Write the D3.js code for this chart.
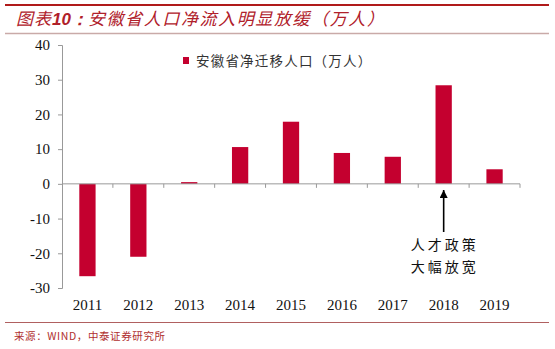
<!DOCTYPE html>
<html><head><meta charset="utf-8">
<script src="https://cdn.jsdelivr.net/npm/d3@7"></script>
<style>body{margin:0;background:#fff}</style>
</head><body>
<svg id="c" width="555" height="349"></svg>
<script>
const years = ["2011","2012","2013","2014","2015","2016","2017","2018","2019"];
const netMigration = [-26.6, -21.0, 0.5, 10.6, 17.9, 8.9, 7.8, 28.4, 4.2];
const yTicks = [-30,-20,-10,0,10,20,30,40];
const title = "图表10：安徽省人口净流入明显放缓（万人）";
const legendLabel = "安徽省净迁移人口（万人）";
const annotation = ["人才政策","大幅放宽"];
const annotationYear = "2018";
const source = "来源：WIND，中泰证券研究所";

const svg = d3.select("#c");
const serif = "'Liberation Serif','DejaVu Serif',serif";
const cjk = "'Noto Sans CJK SC',sans-serif";
const barColor = "#c4002f";

// header/footer lines
svg.append("line").attr("x1",5).attr("x2",549).attr("y1",5).attr("y2",5).attr("stroke","#b01a1a").attr("stroke-width",2);
svg.append("line").attr("x1",5).attr("x2",549).attr("y1",33.5).attr("y2",33.5).attr("stroke","#c9aaa8").attr("stroke-width",1.5);
svg.append("line").attr("x1",5).attr("x2",549).attr("y1",322.5).attr("y2",322.5).attr("stroke","#b06060").attr("stroke-width",1);

const t = svg.append("text").attr("x",16).attr("y",25).attr("fill","#b0202a")
  .attr("font-family",cjk).attr("font-size",17).attr("font-style","italic");
t.append("tspan").attr("letter-spacing",1).text("图表");
t.append("tspan").attr("font-weight","bold").attr("font-family","'Liberation Sans',Arial,sans-serif").text("10：");
t.append("tspan").attr("letter-spacing",1.6).text(title.slice(5));

svg.append("text").attr("x",14).attr("y",340).attr("fill","#b03030")
  .attr("font-family",cjk).attr("font-size",10.5).attr("letter-spacing",0.6).text(source);

const x = d3.scaleBand().domain(years).range([62,520]).paddingInner(0.68).paddingOuter(0.34);
const y = d3.scaleLinear().domain([-30,40]).range([288,45]);

// bars
svg.append("g").selectAll("rect").data(years).join("rect")
  .attr("x",d=>x(d)).attr("width",x.bandwidth())
  .attr("y",(d,i)=>y(Math.max(0,netMigration[i])))
  .attr("height",(d,i)=>Math.abs(y(netMigration[i])-y(0)))
  .attr("fill",barColor);

// y axis
const ya = svg.append("g").attr("transform","translate(62,0)")
  .call(d3.axisLeft(y).tickValues(yTicks).tickFormat(d=>String(d)).tickSize(4).tickPadding(8));
ya.selectAll("path,line").attr("stroke","#999");
ya.selectAll("text").attr("font-family",serif).attr("font-size",15).attr("fill","#111");

// x axis at zero with ticks at band boundaries
const step = x.step();
const xg = svg.append("g");
xg.append("line").attr("x1",62).attr("x2",520).attr("y1",y(0)).attr("y2",y(0)).attr("stroke","#999");
xg.selectAll("line.t").data(d3.range(1,10)).join("line").attr("class","t")
  .attr("x1",i=>62+i*step).attr("x2",i=>62+i*step)
  .attr("y1",y(0)).attr("y2",y(0)+4).attr("stroke","#999");
svg.append("g").selectAll("text").data(years).join("text")
  .attr("x",d=>x(d)+x.bandwidth()/2).attr("y",310).attr("text-anchor","middle")
  .attr("font-family",serif).attr("font-size",15).attr("fill","#111").text(d=>d);

// legend
svg.append("rect").attr("x",183).attr("y",57).attr("width",6).attr("height",7).attr("fill",barColor);
svg.append("text").attr("x",196).attr("y",65.5).attr("font-family",cjk).attr("font-size",13.5)
  .attr("fill","#333").attr("letter-spacing",1.2).text(legendLabel);

// annotation arrow
const ax = x(annotationYear)+x.bandwidth()/2;
svg.append("defs").append("marker").attr("id","ah").attr("viewBox","0 0 10 10")
  .attr("refX",10).attr("refY",5).attr("markerWidth",5).attr("markerHeight",5).attr("orient","auto")
  .append("path").attr("d","M0,0L10,5L0,10z").attr("fill","#000");
svg.append("line").attr("x1",ax).attr("x2",ax).attr("y1",232).attr("y2",190)
  .attr("stroke","#000").attr("stroke-width",1.6).attr("marker-end","url(#ah)");
svg.append("g").selectAll("text").data(annotation).join("text")
  .attr("x",ax+1).attr("y",(d,i)=>250+i*22).attr("text-anchor","middle")
  .attr("font-family",cjk).attr("font-size",14).attr("letter-spacing",3).attr("fill","#111").text(d=>d);
</script>
</body></html>
